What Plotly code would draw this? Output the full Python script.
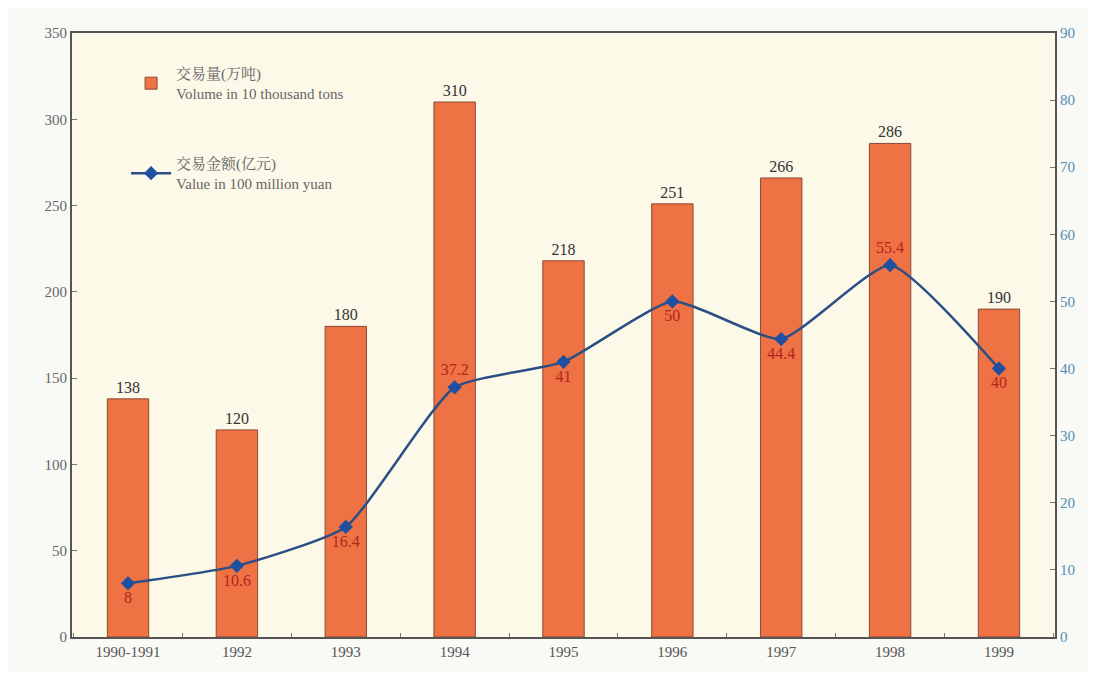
import plotly.graph_objects as go

categories = ["1990-1991", "1992", "1993", "1994", "1995", "1996", "1997", "1998", "1999"]
volume = [138, 120, 180, 310, 218, 251, 266, 286, 190]
value = [8, 10.6, 16.4, 37.2, 41, 50, 44.4, 55.4, 40]
value_label_pos = ["bottom center", "bottom center", "bottom center", "top center",
                   "bottom center", "bottom center", "bottom center", "top center", "bottom center"]

serif = "Liberation Serif, Noto Serif CJK SC, Noto Sans CJK SC, serif"

fig = go.Figure()
fig.add_trace(go.Bar(
    x=categories, y=volume, name="交易量(万吨)<br>Volume in 10 thousand tons",
    legendgroup="vol",
    marker=dict(color="#ef7244", line=dict(color="#8a4a35", width=1)),
    width=0.38,
    text=[str(v) for v in volume], textposition="outside",
    textfont=dict(family=serif, size=16, color="#333333"),
    cliponaxis=False,
))
fig.add_trace(go.Scatter(
    x=categories, y=value, name="交易金额(亿元)<br>Value in 100 million yuan",
    legendgroup="val",
    mode="lines+markers+text", yaxis="y2",
    line=dict(color="#2b4f85", width=2.5, shape="spline", smoothing=0.5),
    marker=dict(symbol="diamond", size=11, color="#1f4fa0"),
    text=[f"{v:g}" for v in value], textposition=value_label_pos,
    textfont=dict(family=serif, size=16, color="#b0261c"),
))

fig.update_layout(
    width=1080, height=664,
    margin=dict(l=64, r=33, t=25, b=35),
    paper_bgcolor="#f9f9f6", plot_bgcolor="#fcf9e9",
    font=dict(family=serif, size=15, color="#666666"),
    showlegend=True,
    legend=dict(x=0.055, y=0.96, xanchor="left", yanchor="top",
                bgcolor="rgba(0,0,0,0)", font=dict(family=serif, size=15, color="#666666"),
                tracegroupgap=48, itemwidth=40),
    bargap=0.6,
    xaxis=dict(showline=True, linecolor="#555555", linewidth=2, mirror=True,
               ticks="inside", tickson="boundaries", ticklen=4, tickcolor="#777777",
               tickfont=dict(family=serif, size=15, color="#555555"),
               showgrid=False),
    yaxis=dict(range=[0, 350], dtick=50, showline=True, linecolor="#555555", linewidth=2,
               ticks="inside", ticklen=5, tickcolor="#777777", showgrid=False, zeroline=False,
               tickfont=dict(family=serif, size=15, color="#666666")),
    yaxis2=dict(range=[0, 90], dtick=10, overlaying="y", side="right", showline=True,
                linecolor="#555555", linewidth=2, ticks="inside", ticklen=5, tickcolor="#777777",
                showgrid=False, zeroline=False,
                tickfont=dict(family=serif, size=15, color="#4f8db5")),
)

fig.write_html("out.html")
